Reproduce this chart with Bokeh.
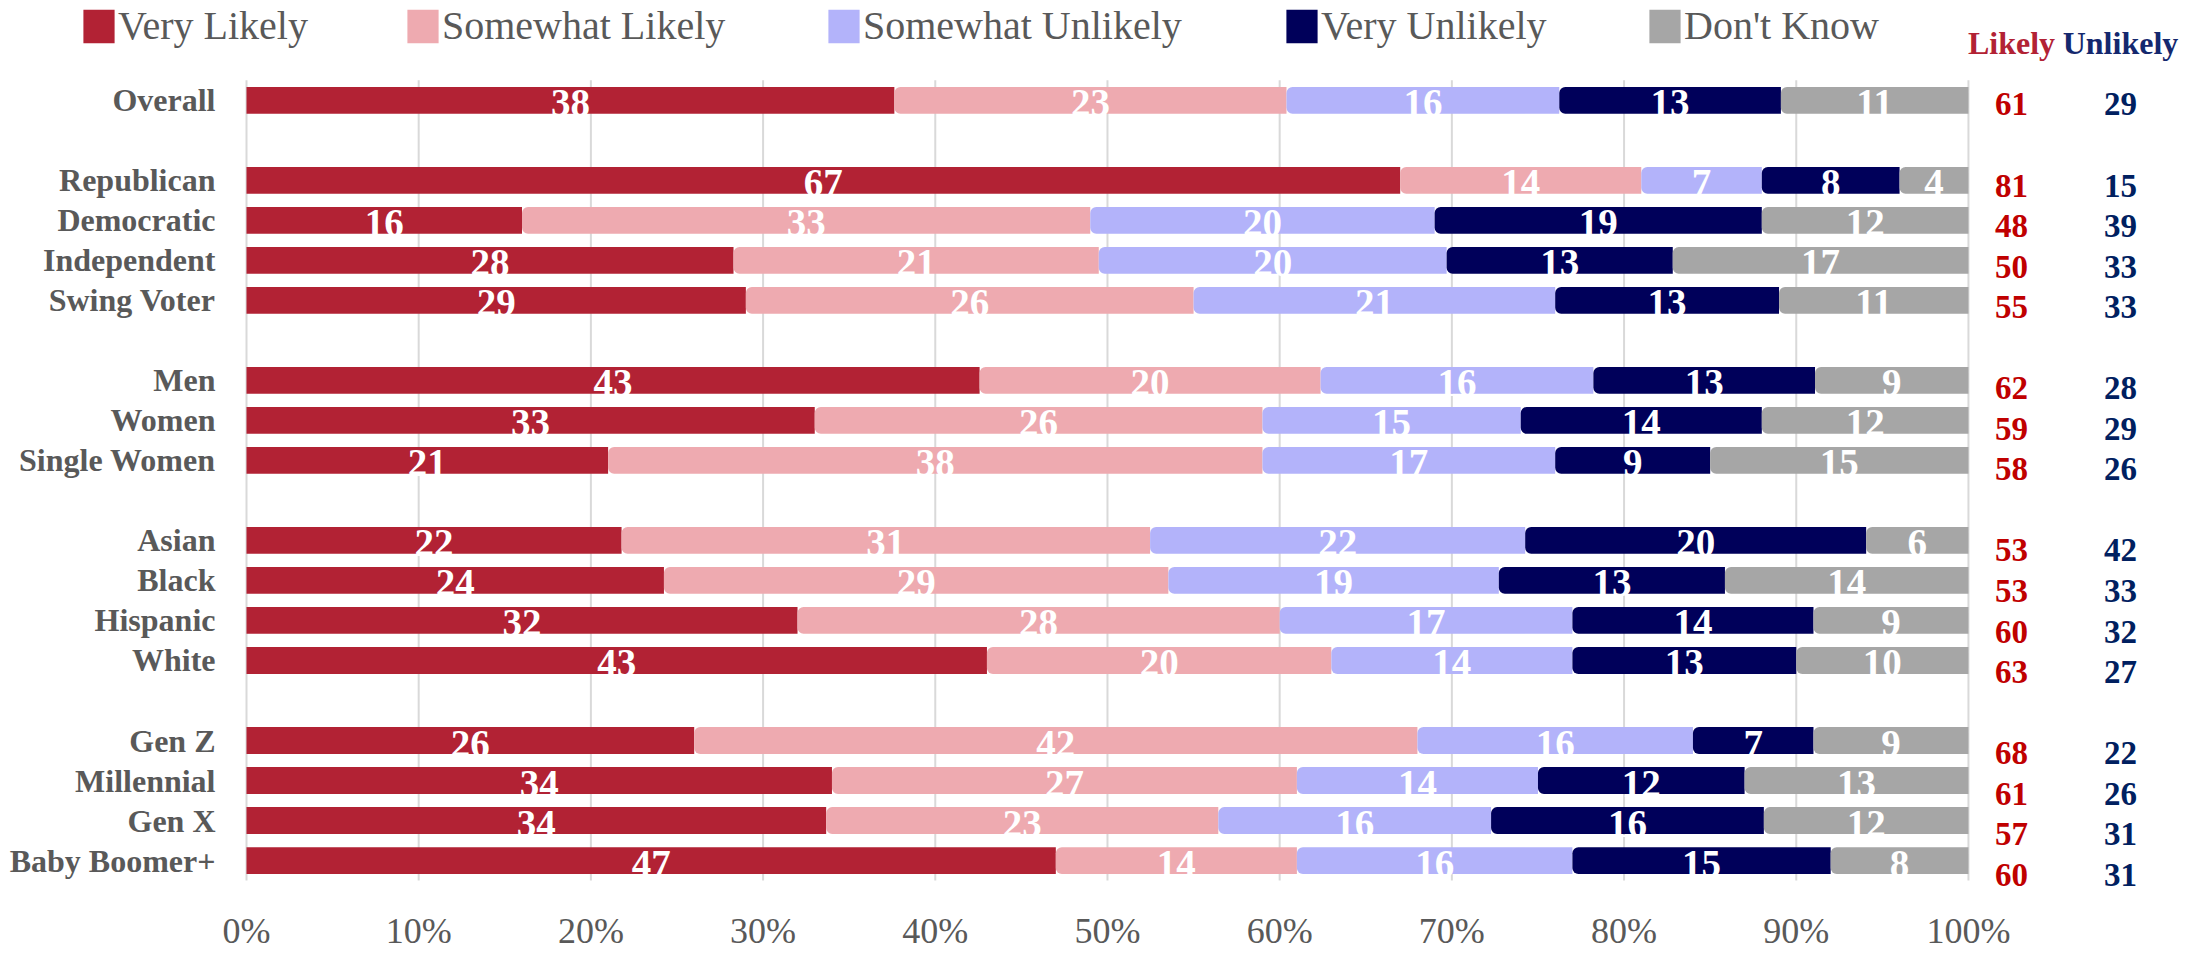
from bokeh.plotting import figure
from bokeh.models import Range1d, FixedTicker, Legend, LegendItem, ColumnDataSource
from bokeh.core.properties import value
from bokeh.embed import file_html
from bokeh.resources import INLINE

# ---------------- data ----------------
groups = [
    ["Overall"],
    ["Republican", "Democratic", "Independent", "Swing Voter"],
    ["Men", "Women", "Single Women"],
    ["Asian", "Black", "Hispanic", "White"],
    ["Gen Z", "Millennial", "Gen X", "Baby Boomer+"],
]
series = ["Very Likely", "Somewhat Likely", "Somewhat Unlikely", "Very Unlikely", "Don't Know"]
very_likely       = [38, 67, 16, 28, 29, 43, 33, 21, 22, 24, 32, 43, 26, 34, 34, 47]
somewhat_likely   = [23, 14, 33, 21, 26, 20, 26, 38, 31, 29, 28, 20, 42, 27, 23, 14]
somewhat_unlikely = [16,  7, 20, 20, 21, 16, 15, 17, 22, 19, 17, 14, 16, 14, 16, 16]
very_unlikely     = [13,  8, 19, 13, 13, 13, 14,  9, 20, 13, 14, 13,  7, 12, 16, 15]
dont_know         = [11,  4, 12, 17, 11,  9, 12, 15,  6, 14,  9, 10,  9, 13, 12,  8]
likely_total      = [61, 81, 48, 50, 55, 62, 59, 58, 53, 53, 60, 63, 68, 61, 57, 60]
unlikely_total    = [29, 15, 39, 33, 33, 28, 29, 26, 42, 33, 32, 27, 22, 26, 31, 31]
side_headers = ["Likely", "Unlikely"]
x_ticks = list(range(0, 101, 10))

colors = ["#B22234", "#EEAAB0", "#B3B3FA", "#00005A", "#A6A6A6"]
grey = "#595959"
FONT = "Liberation Serif"

# slot positions (one empty slot between groups)
categories, slots = [], []
s = 0
for gi, g in enumerate(groups):
    if gi > 0:
        s += 1
    for c in g:
        categories.append(c)
        slots.append(s)
        s += 1

vals = [very_likely, somewhat_likely, somewhat_unlikely, very_unlikely, dont_know]
n = len(categories)
totals = [sum(v[i] for v in vals) for i in range(n)]

# ---------------- figure ----------------
W, H = 2203, 953
p = figure(width=W, height=H, output_backend="svg", toolbar_location=None,
           x_range=Range1d(-14.286, 113.65), y_range=Range1d(19.9489, -2.495),
           min_border_left=0, min_border_right=0, min_border_top=0, min_border_bottom=53)
p.outline_line_color = None
p.background_fill_color = "white"
p.grid.visible = False
p.yaxis.visible = False

xa = p.xaxis[0]
xa.ticker = FixedTicker(ticks=x_ticks)
xa.major_label_overrides = {t: f"{t}%" for t in x_ticks}
xa.axis_line_color = None
xa.major_tick_line_color = None
xa.minor_tick_line_color = None
xa.major_tick_out = 0
xa.major_tick_in = 0
xa.minor_tick_out = 0
xa.minor_tick_in = 0
xa.major_label_text_font = FONT
xa.major_label_text_font_size = "36px"
xa.major_label_text_color = grey
xa.major_label_standoff = 12

# gridlines at the tick values, spanning the rows
y_top, y_bot = min(slots) - 0.5, max(slots) + 0.5
p.segment(x0=x_ticks, x1=x_ticks, y0=[y_top] * len(x_ticks), y1=[y_bot] * len(x_ticks),
          line_color="#D9D9D9", line_width=2)

# category labels
p.text(x=[-1.8] * n, y=slots, text=categories, text_color=grey, text_font=value(FONT),
       text_font_size="32px", text_font_style="bold", text_align="right",
       text_baseline="middle")

# ---------------- bars ----------------
renderers = []
left = [0.0] * n
bar_h = 0.67
for k, (name, v) in enumerate(zip(series, vals)):
    w = [v[i] * 100.0 / totals[i] for i in range(n)]
    right = [left[i] + w[i] for i in range(n)]
    mid = [left[i] + w[i] / 2 for i in range(n)]
    src = ColumnDataSource(dict(y=slots, left=left, right=right, mid=mid, lab=[str(x) for x in v]))
    kw = {}
    if k > 0:
        kw["border_radius"] = (6, 0, 0, 6)
    r = p.hbar(y="y", left="left", right="right", height=bar_h, source=src,
               fill_color=colors[k], line_color=None, **kw)
    renderers.append(r)
    p.text(x="mid", y="y", text="lab", source=src, text_color="white",
           text_font=value(FONT), text_font_size="39px", text_font_style="bold",
           text_align="center", text_baseline="middle", y_offset=3)
    left = right

# ---------------- right columns ----------------
x_likely, x_unlikely = 102.5, 108.83
y_side = [sl * 1.0134 + 0.102 for sl in slots]
p.text(x=[x_likely] * n, y=y_side, text=[str(v) for v in likely_total],
       text_color="#C00000", text_font=value(FONT), text_font_size="33px",
       text_font_style="bold", text_align="center", text_baseline="middle")
p.text(x=[x_unlikely] * n, y=y_side, text=[str(v) for v in unlikely_total],
       text_color="#002060", text_font=value(FONT), text_font_size="33px",
       text_font_style="bold", text_align="center", text_baseline="middle")
p.text(x=[x_likely, x_unlikely], y=[-1.4227, -1.4227], text=side_headers,
       text_color=["#B22234", "#14286E"], text_font=value(FONT), text_font_size="32px",
       text_font_style="bold", text_align="center", text_baseline="middle")

# ---------------- legend ----------------
leg_x = [79, 403, 824, 1282, 1645]
for k, name in enumerate(series):
    leg = Legend(items=[LegendItem(label=name, renderers=[renderers[k]])],
                 location=(leg_x[k], 849), orientation="horizontal",
                 glyph_width=39, glyph_height=42, label_standoff=0,
                 label_text_font=FONT, label_text_font_size="40px",
                 label_text_color=grey, padding=0, margin=0, spacing=0,
                 border_line_color=None, background_fill_alpha=0)
    p.add_layout(leg)

open("out.html", "w").write(file_html(p, INLINE))
